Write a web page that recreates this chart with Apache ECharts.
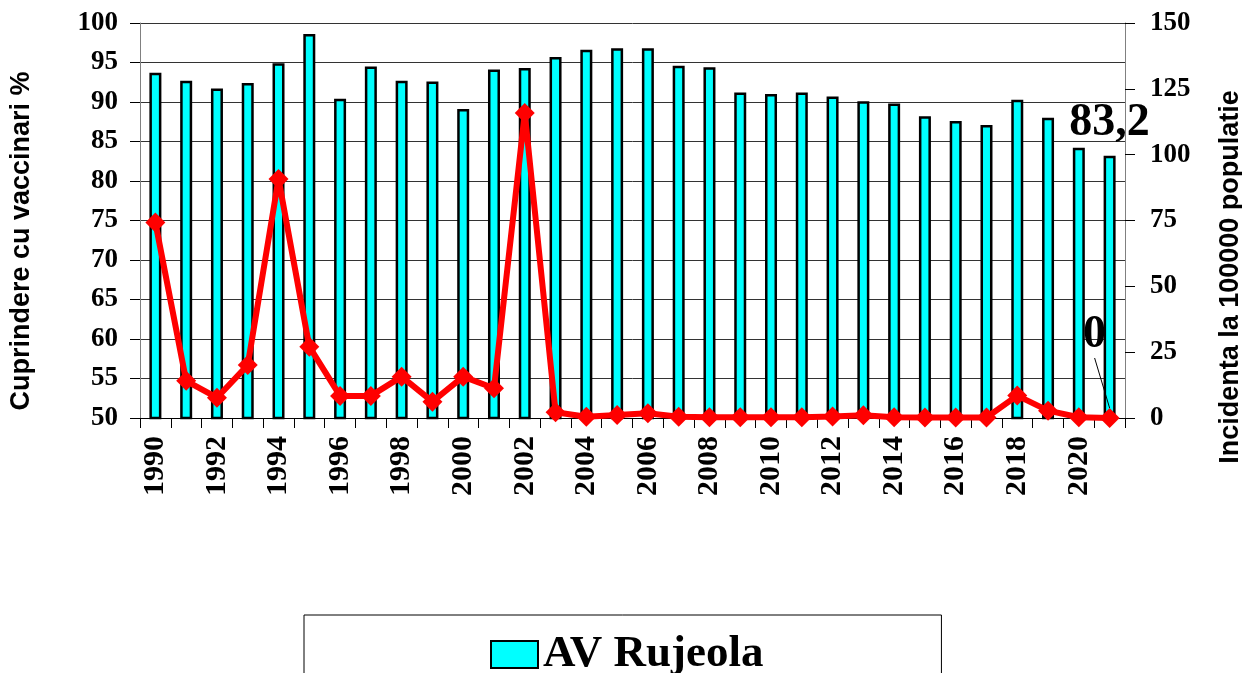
<!DOCTYPE html>
<html>
<head>
<meta charset="utf-8">
<script src="https://cdn.jsdelivr.net/npm/echarts@6/dist/echarts.min.js"></script>
<style>
    html, body { margin: 0; padding: 0; background: #fff; }
    #main { width: 1242px; height: 673px; }
</style>
</head>
<body>
<div id="main"></div>
<script>
var years = ['1990', '1991', '1992', '1993', '1994', '1995', '1996', '1997', '1998', '1999',
    '2000', '2001', '2002', '2003', '2004', '2005', '2006', '2007', '2008', '2009',
    '2010', '2011', '2012', '2013', '2014', '2015', '2016', '2017', '2018', '2019',
    '2020', '2021'];
// acoperire vaccinala AV Rujeola (%)
var coverage = [93.7, 92.7, 91.7, 92.4, 94.9, 98.6, 90.4, 94.5, 92.7, 92.6,
    89.1, 94.1, 94.3, 95.7, 96.6, 96.8, 96.8, 94.6, 94.4, 91.2,
    91.0, 91.2, 90.7, 90.1, 89.8, 88.2, 87.6, 87.1, 90.3, 88.0,
    84.2, 83.2];
// incidenta la 100000 populatie
var incidence = [74.2, 14.1, 7.7, 20.1, 90.8, 27.1, 8.4, 8.4, 15.7, 6.2,
    15.7, 11.3, 115.8, 2.2, 0.5, 1.1, 1.8, 0.5, 0.3, 0.3,
    0.3, 0.3, 0.6, 1.0, 0.3, 0.2, 0.2, 0.2, 8.5, 2.8,
    0.3, 0];
var leftTicks = { min: 50, max: 100, interval: 5 };
var rightTicks = { min: 0, max: 150, interval: 25 };

var serif = '"Liberation Serif", "Times New Roman", serif';
var sans = '"Liberation Sans", Arial, sans-serif';

var myChart = echarts.init(document.getElementById('main'));
myChart.setOption(getChartOption());

function getChartOption() {
    var last = years.length - 1;
    var barData = coverage.map(function (v, i) {
        if (i == last) {
            return {
                value: v,
                label: {
                    show: true, position: 'top', distance: 10,
                    formatter: '83,2',
                    fontFamily: serif, fontWeight: 'bold', fontSize: 46, color: '#000'
                }
            };
        }
        return v;
    });
    var lineData = incidence.map(function (v, i) {
        if (i == last) {
            return {
                value: v,
                label: {
                    show: true, position: 'top', distance: 5,
                    formatter: '0',
                    fontFamily: serif, fontWeight: 'bold', fontSize: 46, color: '#000'
                },
                labelLine: { show: true, lineStyle: { color: '#000', width: 1 } }
            };
        }
        return v;
    });

    return {
        animation: false,
        backgroundColor: '#fff',
        grid: { left: 140, right: 117, top: 23, bottom: 255 },
        legend: {
            data: [{ name: 'AV Rujeola', icon: 'rect' }],
            left: 304,
            top: 615,
            padding: [17, 178, 40, 186],
            borderColor: '#000',
            borderWidth: 1,
            itemWidth: 47,
            itemHeight: 27,
            itemGap: 8,
            textStyle: { fontFamily: serif, fontWeight: 'bold', fontSize: 45, color: '#000' }
        },
        graphic: [
            {
                type: 'text', x: 22, y: 241, rotation: Math.PI / 2,
                style: {
                    text: 'Cuprindere cu vaccinari %', fill: '#000',
                    font: 'bold 27px ' + sans, align: 'center', verticalAlign: 'middle'
                }
            },
            {
                type: 'text', x: 1231, y: 277, rotation: Math.PI / 2,
                style: {
                    text: 'Incidenta la 100000 populatie', fill: '#000',
                    font: 'bold 27px ' + sans, align: 'center', verticalAlign: 'middle'
                }
            }
        ],
        xAxis: [{
            type: 'category',
            data: years,
            boundaryGap: true,
            axisLine: { lineStyle: { color: '#000', width: 1 } },
            axisTick: { show: true, interval: 0, length: 10, lineStyle: { color: '#000' } },
            axisLabel: {
                interval: 1, rotate: 90, margin: 18,
                fontFamily: serif, fontWeight: 'bold', fontSize: 30, color: '#000'
            }
        }],
        yAxis: [
            {
                type: 'value',
                min: leftTicks.min, max: leftTicks.max, interval: leftTicks.interval,
                axisLine: { show: true, lineStyle: { color: '#808080' } },
                axisTick: { show: true, length: 10, lineStyle: { color: '#000' } },
                splitLine: { show: true, lineStyle: { color: '#333', width: 1 } },
                axisLabel: { margin: 22, fontFamily: serif, fontWeight: 'bold', fontSize: 27, color: '#000' }
            },
            {
                type: 'value',
                min: rightTicks.min, max: rightTicks.max, interval: rightTicks.interval,
                axisLine: { show: true, lineStyle: { color: '#808080' } },
                axisTick: { show: true, length: 10, lineStyle: { color: '#000' } },
                splitLine: { show: false },
                axisLabel: { margin: 25, fontFamily: serif, fontWeight: 'bold', fontSize: 27, color: '#000' }
            }
        ],
        series: [
            {
                name: 'AV Rujeola',
                type: 'bar',
                yAxisIndex: 0,
                barWidth: 12,
                itemStyle: { color: '#00FFFF', borderColor: '#000', borderWidth: 2.5 },
                data: barData
            },
            {
                name: 'Incidenta',
                type: 'line',
                yAxisIndex: 1,
                symbol: 'diamond',
                symbolSize: 20,
                lineStyle: { color: '#FF0000', width: 6 },
                itemStyle: { color: '#FF0000' },
                labelLayout: function (params) {
                    if (params.dataIndex == last) {
                        return { dx: -15, dy: -45 };
                    }
                },
                data: lineData,
                z: 3
            }
        ]
    };
}
</script>
</body>
</html>
